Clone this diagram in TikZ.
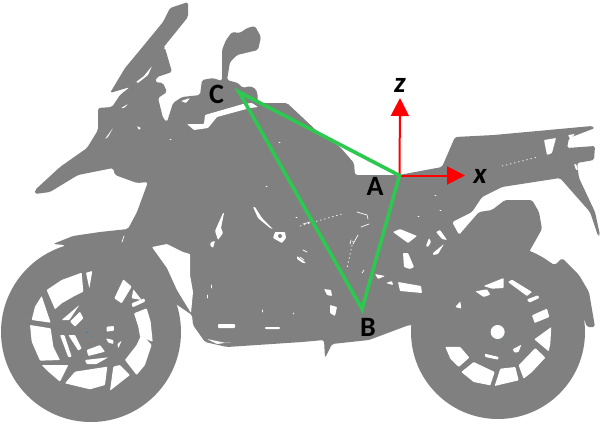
\documentclass[tikz,border=0pt]{standalone}
\usepackage{fontspec}
\setmainfont{Carlito}
\usetikzlibrary{arrows.meta}
\definecolor{bike}{RGB}{128,128,128}
\definecolor{tri}{RGB}{45,200,80}
\definecolor{speck}{RGB}{40,140,170}
\tikzset{
  body/.style={fill=bike,draw=none},
  hole/.style={fill=white,draw=none,rounded corners=0.8pt},
  fine/.style={draw=white,line width=0.7pt,line cap=round},
  dots/.style={draw=white,line width=0.8pt,dash pattern=on 1.2pt off 3pt},
  triangleline/.style={draw=tri,line width=3.6pt,line join=miter},
  axis/.style={draw=red,line width=2pt,-{Triangle[length=18pt,width=18pt]}},
  lab/.style={text=black,font=\fontsize{28}{28}\selectfont\bfseries,inner sep=0pt},
  axlab/.style={text=black,font=\fontsize{29}{29}\selectfont\bfseries\itshape,inner sep=0pt}
}
\begin{document}
\begin{tikzpicture}[x=1pt,y=-1pt]
\useasboundingbox (0,0) rectangle (604,424);
\fill[white] (0,0) rectangle (604,424);
% silhouette
\fill[body,rounded corners=1.8pt] (110,93) -- (125,68) -- (140,50) -- (163,22) -- (170,8) -- (188,2) -- (188,17) -- (163,48) -- (165,48) -- (172,72) -- (157,77) -- (155,82) -- (163,83) -- (167,92) -- (158,98) -- (163,118) -- (167,122) -- (173,103) -- (182,97) -- (200,95) -- (202,80) -- (213,78) -- (222,81) -- (222,50) -- (226,40) -- (232,32) -- (240,33) -- (247,28) -- (255,26) -- (261,37) -- (258,50) -- (237,55) -- (230,62) -- (227,80) -- (238,83) -- (243,88) -- (250,86) -- (256,89) -- (258,97) -- (257,103) -- (287,103) -- (302,117) -- (319,133) -- (340,147) -- (354,163) -- (355,175) -- (399,175) -- (442,167) -- (455,137) -- (494,135) -- (592,126) -- (595,128) -- (569,138) -- (567,148) -- (595,146) -- (594,160) -- (577,163) -- (579,178) -- (595,212) -- (600,235) -- (598,236) -- (590,212) -- (560,178) -- (502,187) -- (482,197) -- (472,212) -- (452,222) -- (459,235) -- (479,212) -- (492,210) -- (505,200) -- (532,200) -- (539,212) -- (542,229) -- (529,252) -- (555,265) -- (562,258) -- (579,275) -- (589,292) -- (595,327) -- (587,327) -- (584,319) -- (498,332) -- (409,325) -- (385,334) -- (369,340) -- (332,344) -- (325,358) -- (324,340) -- (302,342) -- (227,347) -- (205,342) -- (193,325) -- (192,315) -- (170,300) -- (91,332) -- (65,245) -- (53,244) -- (73,236) -- (100,232) -- (128,229) -- (137,212) -- (148,182) -- (137,183) -- (115,175) -- (113,168) -- (78,175) -- (50,192) -- (35,194) -- (35,190) -- (60,167) -- (87,148) -- (98,130) -- (98,108) -- (112,107) -- (120,95) -- (130,87) -- cycle;
\fill[body] (91,332) circle[radius=90];
\fill[body] (498,332) circle[radius=87];
% gaps in the frame and fairing
\fill[hole] (152,247) -- (167,244) -- (183,252) -- (190,254) -- (190,275) -- (193,292) -- (191,313) -- (177,290) -- (167,268) -- cycle;
\fill[hole] (205,115) -- (243,104) -- (252,103) -- (258,107) -- (250,108) -- (217,117) -- (208,128) -- (194,130) -- (187,124) -- (204,124) -- cycle;
\fill[hole] (181,101) -- (190,98) -- (186,103) -- cycle;
\fill[hole] (136,82) -- (144,76) -- (152,66) -- (148,75) -- (138,83) -- cycle;
\fill[hole] (121,108) -- (128,104) -- (124,108) -- cycle;
\fill[hole] (137,126) -- (141,128) -- (139,130) -- cycle;
\fill[hole] (105,139) -- (113,128) -- (108,137) -- cycle;
\fill[hole] (544,140) -- (556,138) -- (552,153) -- (547,155) -- cycle;
\fill[hole] (568,135) -- (575,134) -- (570,139) -- cycle;
\fill[hole] (574,164) -- (576,164) -- (578,170) -- (576,170) -- cycle;
\draw[dots] (502,166) -- (538,157);
% engine area
\fill[hole] (393,232) -- (400,229) -- (417,236) -- (408,243) -- cycle;
\fill[hole] (403,253) -- (408,253) -- (414,267) -- (410,269) -- (404,267) -- cycle;
\fill[hole] (398,282) -- (421,286) -- (422,293) -- (400,291) -- cycle;
\fill[hole] (436,232) -- (440,230) -- (447,240) -- (442,239) -- cycle;
\fill[hole] (426,246) -- (429,238) -- (431,242) -- (428,247) -- cycle;
\fill[hole] (433,253) -- (444,244) -- (438,254) -- (433,255) -- cycle;
\fill[hole] (324,289) -- (331,290) -- (332,296) -- (327,295) -- cycle;
\fill[hole] (375,274) -- (385,276) -- (378,279) -- cycle;
\fill[hole] (386,283) -- (392,281) -- (393,285) -- cycle;
\fill[hole] (223,213) -- (224,213) -- (221,228) -- (223,233) -- (218,240) -- (215,231) -- cycle;
\fill[hole] (211,242) -- (215,241) -- (213,248) -- (210,245) -- cycle;
\fill[hole] (253,207) -- (255,207) -- (262,218) -- (273,229) -- (270,228) -- (258,218) -- cycle;
\fill[hole] (275,232) -- (285,232) -- (286,238) -- (282,243) -- (273,238) -- cycle;
\fill[body] (280,236) circle[radius=2];
\fill[hole] (218,324) -- (235,324) -- (235,328) -- (218,328) -- cycle;
\fill[hole] (265,327) -- (280,327) -- (280,329) -- (265,329) -- cycle;
\fill[hole] (207,339) -- (226,343) -- (232,342) -- (217,344) -- cycle;
\fill[hole] (330,305) -- (337,307) -- (335,316) -- (330,313) -- cycle;
\fill[hole] (297,256) -- (306,263) -- (303,263) -- (297,259) -- cycle;
\draw[fine] (303,224) -- (310,222) (358,235) -- (353,244) (362,273) -- (364,270) (351,240) -- (350,244);
\draw[fine] (357,212) -- (367,215) -- (368,219) (361,227) -- (369,224);
\draw[dots] (300,226) -- (342,214);
\draw[dots] (353,241) -- (347,268);
\draw[fine] (303,250) -- (307,252) (300,257) -- (304,260);
\draw[fine] (122,242) -- (124,236);
\draw[fine] (211,288) -- (211,285) (207,298) -- (207,295) (262,312) -- (262,310) (293,314) -- (293,313);
\draw[fine] (170,139) -- (171,139) (279,142) -- (280,142) (266,186) -- (267,186) (296,217) -- (297,217);
\draw[fine] (440,210) -- (441,210) (435,195) -- (436,195) (418,216) -- (419,216);
% front wheel openings
\begin{scope}[shift={(30,270)},x=0.3333pt,y=-0.3333pt]
\fill[hole] (50,60) -- (95,30) -- (155,8) -- (160,65) -- (130,80) -- (95,100) -- (75,118) -- cycle;
\fill[hole] (168,8) -- (187,3) -- (178,55) -- cycle;
\fill[hole] (280,28) -- (305,50) -- (275,100) -- (253,85) -- cycle;
\fill[hole] (310,58) -- (335,90) -- (305,85) -- cycle;
\fill[hole] (305,100) -- (343,85) -- (345,95) -- (308,112) -- cycle;
\fill[hole] (312,130) -- (350,115) -- (362,155) -- (368,215) -- (330,200) -- (325,170) -- cycle;
\fill[hole] (335,192) -- (365,225) -- (345,285) -- (320,315) -- (285,270) -- (320,225) -- cycle;
\fill[hole] (270,285) -- (300,315) -- (240,362) -- (250,290) -- cycle;
\fill[hole] (135,305) -- (232,290) -- (225,345) -- (180,358) -- (105,340) -- cycle;
\fill[hole] (35,285) -- (115,285) -- (90,335) -- (55,305) -- cycle;
\fill[hole] (0,165) -- (62,175) -- (70,230) -- (90,270) -- (30,272) -- (5,215) -- cycle;
\fill[hole] (35,78) -- (62,158) -- (5,150) -- (15,110) -- cycle;
\fill[hole] (95,150) -- (148,105) -- (118,150) -- cycle;
\fill[hole] (120,155) -- (150,125) -- (160,145) -- (135,170) -- cycle;
\fill[hole] (115,195) -- (135,195) -- (155,235) -- (145,242) -- cycle;
\fill[hole] (90,195) -- (103,195) -- (125,260) -- (115,262) -- cycle;
\fill[hole] (170,240) -- (210,225) -- (225,245) -- (175,258) -- cycle;
\fill[hole] (165,270) -- (235,262) -- (200,282) -- (170,282) -- cycle;
\fill[hole] (230,170) -- (252,168) -- (252,182) -- (230,185) -- cycle;
\fill[hole] (228,205) -- (250,210) -- (250,222) -- (235,218) -- cycle;
\fill[hole] (262,222) -- (275,212) -- (265,235) -- cycle;
\fill[speck] (171,187) circle[radius=3];
\fill[speck] (183,200) circle[radius=2];
\end{scope}
% rear wheel openings
\begin{scope}[shift={(302,212)},x=0.3333pt,y=-0.3333pt]
\fill[hole] (430,405) -- (475,405) -- (502,437) -- (470,465) -- (445,440) -- cycle;
\fill[hole] (478,480) -- (515,450) -- (578,480) -- (565,520) -- (515,510) -- cycle;
\fill[hole] (595,470) -- (640,465) -- (650,505) -- (578,522) -- cycle;
\fill[hole] (650,460) -- (700,408) -- (730,437) -- (690,480) -- (665,500) -- cycle;
\fill[hole] (697,382) -- (748,345) -- (745,395) -- (740,418) -- cycle;
\fill[hole] (690,310) -- (735,290) -- (742,315) -- (698,333) -- cycle;
\fill[hole] (675,262) -- (708,250) -- (712,258) -- (682,272) -- cycle;
\fill[hole] (618,210) -- (630,203) -- (690,240) -- (675,252) -- cycle;
\fill[hole] (545,222) -- (605,198) -- (605,228) -- (570,230) -- cycle;
\fill[hole] (520,238) -- (555,232) -- (565,248) -- (545,255) -- cycle;
\fill[hole] (460,285) -- (475,268) -- (478,290) -- cycle;
\fill[hole] (587,360) circle[radius=21];
\fill[hole] (548,425) -- (590,435) -- (588,443) -- (550,435) -- cycle;
\fill[hole] (632,412) -- (658,398) -- (650,420) -- (638,422) -- cycle;
\fill[speck] (558,378) circle[radius=1.5] (575,390) circle[radius=1.5] (603,392) circle[radius=1.5] (618,378) circle[radius=1.5];
\end{scope}
% triangle and axes
\coordinate (ptA) at (399.5,175.5);
\coordinate (ptB) at (362,309);
\coordinate (ptC) at (239,92);
\coordinate (tipZ) at (400,98);
\coordinate (tipX) at (465,175.5);
\draw[axis] (ptA) -- (tipZ);
\draw[axis] (ptA) -- (tipX);
\draw[triangleline] (ptC) -- (ptA) -- (ptB) -- cycle;
\node[lab] (labA) at (375,186) {A};
\node[lab] (labB) at (368,327) {B};
\node[lab] (labC) at (216.5,94) {C};
\node[axlab] (labZ) at (400,85) {z};
\node[axlab] (labX) at (480,176) {x};
\end{tikzpicture}
\end{document}
